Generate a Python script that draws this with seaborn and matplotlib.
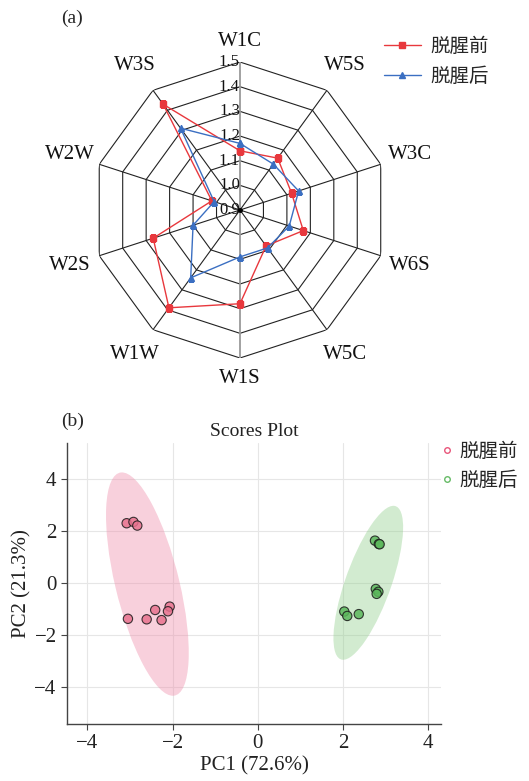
import numpy as np
import pandas as pd
import seaborn as sns
import matplotlib
matplotlib.use("Agg")
import matplotlib.pyplot as plt
from matplotlib.patches import Ellipse
from matplotlib.lines import Line2D

sns.set_theme(style="white")
plt.rcParams['font.family'] = ['Liberation Serif', 'Noto Sans CJK SC']
plt.rcParams['axes.unicode_minus'] = True

# radar data (a)
sensors = ["W1C", "W5S", "W3C", "W6S", "W5C", "W1S", "W1W", "W2S", "W2W", "W3S"]
before = [1.14, 1.16, 1.12, 1.17, 1.08, 1.28, 1.39, 1.27, 1.02, 1.43]
after = [1.17, 1.13, 1.15, 1.11, 1.09, 1.09, 1.24, 1.10, 1.01, 1.31]
r_ticks = [0.9, 1.0, 1.1, 1.2, 1.3, 1.4, 1.5]
groups = ["脱腥前", "脱腥后"]

# PCA scores (b)
pc1_before = [-3.08, -2.92, -2.83, -2.07, -2.11, -2.41, -3.05, -2.61, -2.26]
pc2_before = [2.31, 2.36, 2.22, -0.90, -1.08, -1.03, -1.37, -1.39, -1.42]
pc1_after = [2.75, 2.84, 2.86, 2.77, 2.83, 2.79, 2.03, 2.10, 2.37]
pc2_after = [1.64, 1.51, 1.50, -0.22, -0.33, -0.41, -1.09, -1.26, -1.19]
xticks = [-4, -2, 0, 2, 4]
yticks = [-4, -2, 0, 2, 4]

red = "#e8383d"
blue = "#3b6fc2"
pink = "#e8728f"
green = "#5cb85c"

fig = plt.figure(figsize=(5.29, 7.81), dpi=100)

# ---------- radar ----------
ax = fig.add_axes([0.1739, 0.5416, 0.5595, 0.379], projection="polar")
ax.set_theta_zero_location("N")
ax.set_theta_direction(-1)
ax.set_ylim(0.9, 1.5)
ax.grid(False)
ax.set_xticks([])
ax.set_yticks([])
ax.spines["polar"].set_visible(False)
ax.patch.set_alpha(0)

n = len(sensors)
theta = np.arange(n) * 2 * np.pi / n
theta_c = np.append(theta, theta[0])

for r in r_ticks[1:]:
    ax.plot(theta_c, [r] * (n + 1), color="#222222", lw=0.8, zorder=1)
for i, t in enumerate(theta):
    c = "#9a9a9a" if i in (0, 5) else "#222222"
    w = 1.3 if i in (0, 5) else 0.8
    ax.plot([t, t], [0.9, 1.5], color=c, lw=w, zorder=1)
ax.plot([0], [0.9], "o", color="black", ms=2.5, zorder=5)

for r in r_ticks:
    ax.text(0, r, f"{r:.1f}", ha="right", va="center", fontsize=12, color="#111111", zorder=2)
for t, s in zip(theta, sensors):
    # top and bottom labels sit a little closer to the web
    rl = 1.625 if abs(np.cos(t)) < 0.99 else 1.585
    ax.text(t, rl, s, ha="center", va="center", fontsize=15, color="#111111")

ax.plot(theta_c, before + before[:1], color=red, lw=1, marker="s", ms=4.5, zorder=3)
ax.plot(theta_c, after + after[:1], color=blue, lw=1, marker="^", ms=4.5, zorder=3)

h1 = Line2D([], [], color=red, lw=1, marker="s", ms=4.5)
h2 = Line2D([], [], color=blue, lw=1, marker="^", ms=4.5)
fig.legend([h1, h2], groups, loc="upper left", bbox_to_anchor=(0.692, 0.975),
           frameon=False, fontsize=14, handlelength=1.9, handletextpad=0.5,
           labelspacing=0.6)

fig.text(0.115, 0.977, "(a)", fontsize=14, va="center")

# ---------- scores plot ----------
df = pd.DataFrame({
    "PC1": pc1_before + pc1_after,
    "PC2": pc2_before + pc2_after,
    "group": [groups[0]] * len(pc1_before) + [groups[1]] * len(pc1_after),
})

ax2 = fig.add_axes([0.1267, 0.073, 0.7069, 0.3598])
ax2.set_xlim(-4.48, 4.3)
ax2.set_ylim(-5.42, 5.4)
ax2.set_xticks(xticks)
ax2.set_yticks(yticks)
ax2.grid(True, color="#e6e6e6", lw=0.8)
ax2.set_axisbelow(True)

fills = {groups[0]: "#ee8aa8", groups[1]: "#8fcf8a"}
for g in groups:
    sub = df[df["group"] == g]
    cov = np.cov(sub["PC1"], sub["PC2"])
    vals, vecs = np.linalg.eigh(cov)
    ang = np.degrees(np.arctan2(vecs[1, 1], vecs[0, 1]))
    k = np.sqrt(5.991)
    e = Ellipse((sub["PC1"].mean(), sub["PC2"].mean()), 2 * k * np.sqrt(vals[1]),
                2 * k * np.sqrt(vals[0]), angle=ang, facecolor=fills[g],
                edgecolor="none", alpha=0.4, zorder=1)
    ax2.add_patch(e)

sns.scatterplot(data=df, x="PC1", y="PC2", hue="group", palette=[pink, green],
                s=45, edgecolor="#1a1a1a", linewidth=0.8, alpha=0.85,
                legend=False, ax=ax2, zorder=3)

for s in ["top", "right"]:
    ax2.spines[s].set_visible(False)
for s in ["left", "bottom"]:
    ax2.spines[s].set_color("#444444")
    ax2.spines[s].set_linewidth(1)
ax2.tick_params(axis="both", direction="out", length=4, width=0.8, color="#444444",
                labelsize=15, labelcolor="#222222", bottom=True, left=True)
ax2.set_xlabel("PC1 (72.6%)", fontsize=15, color="#222222", labelpad=2)
ax2.set_ylabel("PC2 (21.3%)", fontsize=15, color="#222222", labelpad=2)
ax2.set_title("Scores Plot", fontsize=14, color="#222222", pad=5)

m1 = Line2D([], [], ls="none", marker="o", ms=4, mfc="none", mec="#e8557a", mew=1)
m2 = Line2D([], [], ls="none", marker="o", ms=4, mfc="none", mec="#66bb66", mew=1)
ax2.legend([m1, m2], groups, loc="upper left", bbox_to_anchor=(0.955, 1.065),
           frameon=False, fontsize=14, handlelength=0.6, handletextpad=0.3,
           labelspacing=0.55)

fig.text(0.115, 0.461, "(b)", fontsize=14, va="center")

fig.savefig("out.png", dpi=100)
